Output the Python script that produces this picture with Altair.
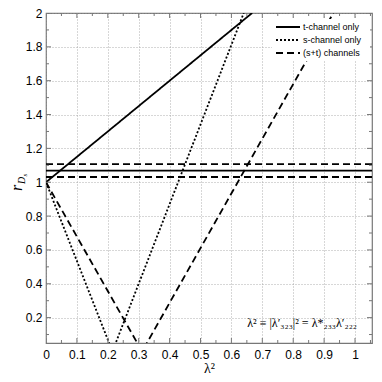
import altair as alt
import pandas as pd

# ---- data ----
SERIES = ["t-channel only", "s-channel only", "(s+t) channels"]
# t-channel only (solid)
T_X = [0.0, 0.667]
T_Y = [1.0, 2.0]
T_HLINE = 1.068
# s-channel only (dotted) V shape
S_X = [0.0, 0.215, 0.64]
S_Y = [1.0, 0.0, 2.0]
# (s+t) channels (dashed) V shape
ST_X = [0.0, 0.311, 0.93]
ST_Y = [1.0, 0.0, 2.0]
ST_HLINES = [1.031, 1.107]
H_X = [0.0, 1.055]

X_MAJOR = [0, 0.1, 0.2, 0.3, 0.4, 0.5, 0.6, 0.7, 0.8, 0.9, 1.0]
X_MINOR = [0.05, 0.15, 0.25, 0.35, 0.45, 0.55, 0.65, 0.75, 0.85, 0.95, 1.05]
Y_MAJOR = [0.2, 0.4, 0.6, 0.8, 1.0, 1.2, 1.4, 1.6, 1.8, 2.0]
Y_MINOR = [0.1, 0.3, 0.5, 0.7, 0.9, 1.1, 1.3, 1.5, 1.7, 1.9]

X_DOMAIN = [0, 1.055]
Y_DOMAIN = [0.05, 2.0]

DASHES = [[1, 0], [2, 2], [7, 4]]
ANNOT = "λ² ≡ |λ′₃₂₃|² = λ*₂₃₃λ′₂₂₂"

W, H = 326, 330

rows = []
def add(xs, ys, series, group):
    for x, y in zip(xs, ys):
        rows.append({"x": x, "y": y, "series": series, "group": group})

add(T_X, T_Y, SERIES[0], "t1")
add(H_X, [T_HLINE, T_HLINE], SERIES[0], "t2")
add(S_X, S_Y, SERIES[1], "s1")
add(ST_X, ST_Y, SERIES[2], "st1")
for i, h in enumerate(ST_HLINES):
    add(H_X, [h, h], SERIES[2], f"sth{i}")
df = pd.DataFrame(rows)

xs = alt.Scale(domain=X_DOMAIN, nice=False, zero=False)
ys = alt.Scale(domain=Y_DOMAIN, nice=False, zero=False)

x_axis = alt.Axis(values=X_MAJOR, format="~g", title="λ²")
y_axis = alt.Axis(values=Y_MAJOR, format="~g", title=None)

lines = alt.Chart(df).mark_line(clip=True, color="black", strokeWidth=1.8).encode(
    x=alt.X("x:Q", scale=xs, axis=x_axis),
    y=alt.Y("y:Q", scale=ys, axis=y_axis),
    strokeDash=alt.StrokeDash("series:N", scale=alt.Scale(domain=SERIES, range=DASHES), legend=None),
    detail="group:N",
)

tick_color = "#777777"
xmaj = pd.DataFrame({"v": X_MAJOR})
xmin = pd.DataFrame({"v": X_MINOR})
ymaj = pd.DataFrame({"v": Y_MAJOR})
ymin = pd.DataFrame({"v": Y_MINOR})

def xticks(d, L):
    b = alt.Chart(d).mark_rule(color=tick_color, strokeWidth=1, clip=True)
    return (b.encode(x=alt.X("v:Q", scale=xs, axis=x_axis), y=alt.value(H), y2=alt.value(H - L)) +
            b.encode(x=alt.X("v:Q", scale=xs, axis=x_axis), y=alt.value(0), y2=alt.value(L)))

def yticks(d, L):
    b = alt.Chart(d).mark_rule(color=tick_color, strokeWidth=1, clip=True)
    return (b.encode(y=alt.Y("v:Q", scale=ys, axis=y_axis), x=alt.value(0), x2=alt.value(L)) +
            b.encode(y=alt.Y("v:Q", scale=ys, axis=y_axis), x=alt.value(W), x2=alt.value(W - L)))

one = alt.Data(values=[{}])

# legend (manual, white box)
legend_layers = [
    alt.Chart(one).mark_rect(color="white").encode(
        x=alt.value(226), x2=alt.value(324), y=alt.value(6), y2=alt.value(48))
]
for i, lab in enumerate(SERIES):
    yy = 14 + 13 * i
    legend_layers.append(alt.Chart(one).mark_rule(color="black", strokeWidth=1.8,
                                                  strokeDash=DASHES[i]).encode(
        x=alt.value(230), x2=alt.value(254), y=alt.value(yy)))
    legend_layers.append(alt.Chart(one).mark_text(align="left", baseline="middle",
                                                  font="Liberation Sans", fontSize=9,
                                                  color="black").encode(
        x=alt.value(257), y=alt.value(yy), text=alt.value(lab)))

annot = alt.Chart(one).mark_text(align="right", baseline="middle", font="Liberation Serif",
                                 fontSize=12, color="black").encode(
    x=alt.value(311), y=alt.value(310), text=alt.value(ANNOT))

ytitle = [
    alt.Chart(one).mark_text(angle=270, align="left", baseline="alphabetic",
                             font="Liberation Serif", fontStyle="italic", fontSize=16,
                             color="black").encode(x=alt.value(-24), y=alt.value(178),
                                                   text=alt.value("r")),
    alt.Chart(one).mark_text(angle=270, align="left", baseline="alphabetic",
                             font="Liberation Serif", fontStyle="italic", fontSize=10,
                             color="black").encode(x=alt.value(-21), y=alt.value(171),
                                                   text=alt.value("D")),
    alt.Chart(one).mark_text(angle=270, align="left", baseline="alphabetic",
                             font="Liberation Serif", fontStyle="italic", fontSize=7,
                             color="black").encode(x=alt.value(-19), y=alt.value(163.5),
                                                   text=alt.value("s")),
]

chart = alt.layer(
    lines,
    xticks(xmaj, 5), xticks(xmin, 3), yticks(ymaj, 5), yticks(ymin, 3),
    *legend_layers, annot, *ytitle,
).properties(
    width=W, height=H,
    autosize=alt.AutoSizeParams(type="none"),
    padding={"left": 38, "top": 5, "right": 2, "bottom": 31},
).configure_view(
    stroke="#777777", strokeWidth=1.2
).configure_axis(
    ticks=False, domain=False, labelOverlap=False, labelFlush=False,
    grid=True, gridDash=[1, 2], gridColor="#9a9a9a", gridWidth=0.8,
    labelFont="Liberation Sans", labelFontSize=12, labelColor="black",
    titleFont="Liberation Serif", titleFontSize=14, titleFontWeight="normal",
    titleColor="black", titlePadding=1,
).configure_axisX(labelPadding=6).configure_axisY(labelPadding=4)

chart.save("out.html", embed_options={"renderer": "svg", "actions": False})
